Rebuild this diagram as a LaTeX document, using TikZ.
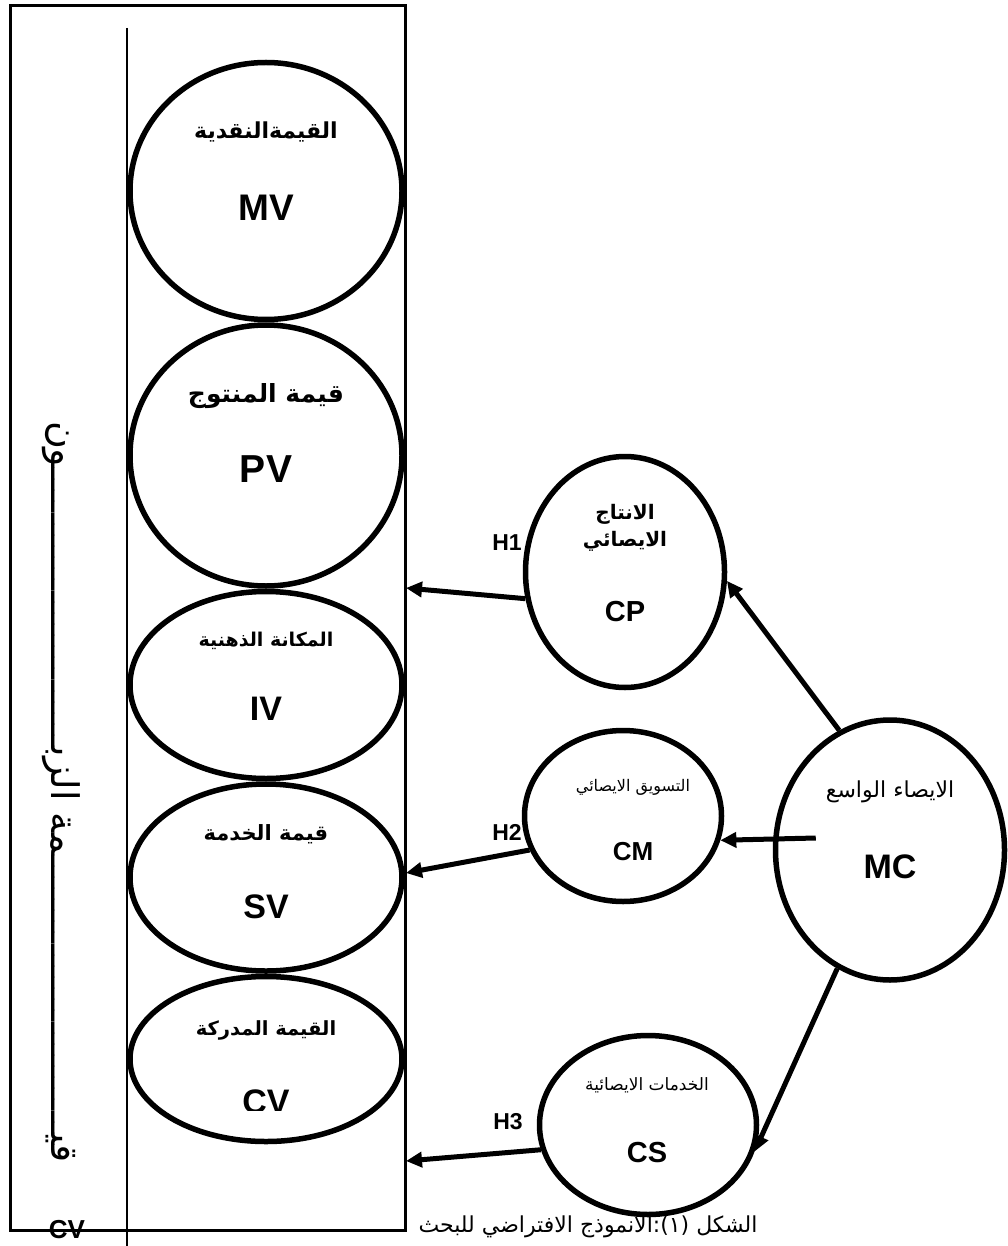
\documentclass[tikz,border=0pt]{standalone}
\usepackage{fontspec}
\setsansfont{Liberation Sans}
\newfontfamily\arabicfont[Script=Arabic]{DejaVu Sans}
\TeXXeTstate=1
\usetikzlibrary{arrows.meta,calc,positioning,shapes.geometric}

\begin{document}
\begin{tikzpicture}[
    x=1pt, y=-1pt,
    value/.style={draw, ellipse, line width=5.5pt, minimum width=272pt, inner sep=0pt},
    driver/.style={draw, ellipse, line width=5.5pt, fill=white, inner sep=0pt},
    code/.style={font=\sffamily\bfseries\fontsize{#1}{#1}\selectfont, inner sep=0pt},
    arbold/.style={font=\arabicfont\bfseries\fontsize{#1}{#1}\selectfont, inner sep=0pt},
    arplain/.style={font=\arabicfont\fontsize{#1}{#1}\selectfont, inner sep=0pt},
    arrow/.style={-{Triangle[length=16pt,width=15pt]}, line width=5pt}
]
\path[fill=white] (0,0) rectangle (1008,1246);
\useasboundingbox (0,0) rectangle (1008,1246);

% outer frame and dividing line
\draw[line width=3pt] (10,6) rectangle (405,1230);
\draw[line width=2.5pt] (127,28) -- (127,1246);
\node[arplain=38, rotate=-90] (custval) at (61,792)
    {\beginR قيـــــــــــــــــــــــــمة الزبـــــــــــــــــــــــــون\endR};
\node[code=26] (cvtag) at (67,1230) {CV};

% customer value dimensions
\node[value, minimum height=257pt] (mv) at (266,191) {};
\node[value, minimum height=261pt, below=0pt of mv] (pv) {};
\node[value, minimum height=187pt, below=0pt of pv] (iv) {};
\node[value, minimum height=187pt, below=0pt of iv] (sv) {};
\node[value, minimum height=165pt, below=0pt of sv] (cv) {};
\node[arbold=22] at ($(mv)+(0,-59)$) {\beginR القيمةالنقدية\endR};
\node[code=37] at ($(mv)+(0,17)$) {MV};
\node[arbold=25] at ($(pv)+(0,-59)$) {\beginR قيمة المنتوج\endR};
\node[code=39] at ($(pv)+(0,14)$) {PV};
\node[arbold=19] at ($(iv)+(0,-44)$) {\beginR المكانة الذهنية\endR};
\node[code=34] at ($(iv)+(0,24)$) {IV};
\node[arbold=21] at ($(sv)+(0,-43)$) {\beginR قيمة الخدمة\endR};
\node[code=34] at ($(sv)+(0,29)$) {SV};
\node[arbold=19.5] at ($(cv)+(0,-29)$) {\beginR القيمة المدركة\endR};
\begin{scope}
\clip (130,1000) rectangle (400,1110);
\node[code=34] at ($(cv)+(0,43)$) {CV};
\end{scope}

% caption (drawn before CS so the circle covers it)
\node[arplain=22] (caption) at (588,1227)
    {\beginR الشكل (١):الانموذج الافتراضي للبحث\endR};

% mass customization dimensions
\node[driver, minimum width=199pt, minimum height=231pt] (cp) at (625,572) {};
\node[driver, minimum width=197pt, minimum height=171pt] (cm) at (623,816) {};
\node[driver, minimum width=217pt, minimum height=179pt] (cs) at (648,1125) {};
\node[driver, minimum width=229pt, minimum height=260pt] (mc) at (890,850) {};
\node[arbold=20, align=center] at (625,528)
    {\beginR الانتاج\endR\\[6pt]\beginR الايصائي\endR};
\node[code=29] at (625,612) {CP};
\node[arplain=16] at (633,787) {\beginR التسويق الايصائي\endR};
\node[code=26] at (633,852) {CM};
\node[arplain=17] at (647,1085) {\beginR الخدمات الايصائية\endR};
\node[code=29] at (647,1153) {CS};
\node[arplain=22] at (890,792) {\beginR الايصاء الواسع\endR};
\node[code=34] at (890,867) {MC};

% hypotheses
\coordinate (h1end) at (406,588);
\coordinate (h2end) at (406,873);
\coordinate (h3end) at (406,1161);
\draw[arrow] (cp.195) -- (h1end);
\draw[arrow] (cm.200) -- (h2end);
\draw[arrow] (cs.193) -- (h3end);
\node[code=23] at (507,543) {H1};
\node[code=23] at (507,832) {H2};
\node[code=23] at (508,1122) {H3};
\draw[arrow] (mc.113) -- (cp.355);
\draw[arrow] ($(mc.west)+(43,-12)$) -- (cm.346);
\draw[arrow] (mc.246) -- (cs.346);
\end{tikzpicture}
\end{document}
